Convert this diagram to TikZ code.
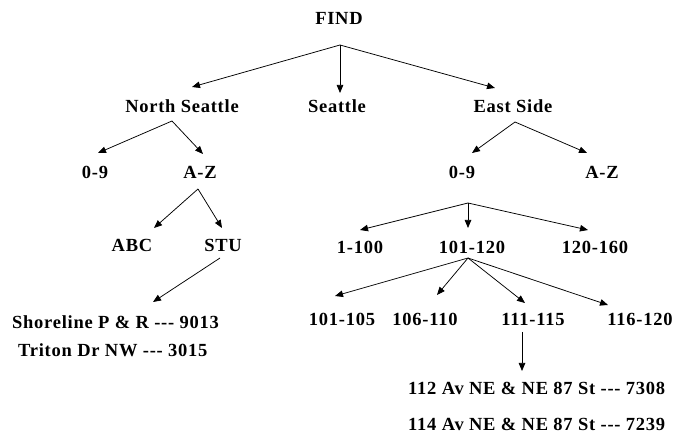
\documentclass[tikz,border=0pt]{standalone}
\usepackage{fontspec}
\setmainfont[LetterSpace=4]{Liberation Serif}
\usetikzlibrary{arrows.meta}
\newcommand{\tdash}{{-}{-}{-}}
\begin{document}
\begin{tikzpicture}[x=1pt,y=-1pt,
  lbl/.style={inner sep=0pt,font=\fontsize{18.5}{20}\selectfont\bfseries},
  lbll/.style={lbl,anchor=west},
  arr/.style={draw=black,line width=0.75pt,-{Triangle[length=8pt,width=6.5pt]}}]
\useasboundingbox (0,0) rectangle (675,438);
% nodes
\node[lbl] (find) at (339,18) {FIND};
\node[lbl] (ns) at (182,106) {North Seattle};
\node[lbl] (sea) at (337,106) {Seattle};
\node[lbl] (es) at (513,106) {East Side};
\node[lbl] (n09) at (95,172) {0-9};
\node[lbl] (naz) at (200,172) {A-Z};
\node[lbl] (abc) at (132,245) {ABC};
\node[lbl] (stu) at (223,245) {STU};
\node[lbll] (shore) at (12,322) {Shoreline P \& R \tdash{} 9013};
\node[lbll] (triton) at (18,350) {Triton Dr NW \tdash{} 3015};
\node[lbl] (e09) at (462,172) {0-9};
\node[lbl] (eaz) at (602,172) {A-Z};
\node[lbl] (r1) at (360,247) {1-100};
\node[lbl] (r2) at (472,247) {101-120};
\node[lbl] (r3) at (595,247) {120-160};
\node[lbl] (s1) at (342,319) {101-105};
\node[lbl] (s2) at (425,319) {106-110};
\node[lbl] (s3) at (533,319) {111-115};
\node[lbl] (s4) at (640,319) {116-120};
\node[lbll] (a1) at (408,388) {112 Av NE \& NE 87 St \tdash{} 7308};
\node[lbll] (a2) at (408,424) {114 Av NE \& NE 87 St \tdash{} 7239};
% fork points
\coordinate (fF) at ([shift={(1,27)}]find.center);
\coordinate (fNS) at ([shift={(-10,15)}]ns.center);
\coordinate (fAZ) at ([shift={(-2,17)}]naz.center);
\coordinate (fSTU) at ([shift={(-3,13)}]stu.center);
\coordinate (fES) at ([shift={(2,16)}]es.center);
\coordinate (fE09) at ([shift={(6,31)}]e09.center);
\coordinate (fR2) at ([shift={(-4,11)}]r2.center);
\coordinate (fS3) at ([shift={(-11,13)}]s3.center);
% connectors
\draw[arr] (fF) -- ([shift={(10,-19)}]ns.center);
\draw[arr] (fF) -- ([shift={(3,-13)}]sea.center);
\draw[arr] (fF) -- ([shift={(-18,-18)}]es.center);
\draw[arr] (fNS) -- ([shift={(3,-19)}]n09.center);
\draw[arr] (fNS) -- ([shift={(3,-18)}]naz.center);
\draw[arr] (fAZ) -- ([shift={(22,-17)}]abc.center);
\draw[arr] (fAZ) -- ([shift={(-1,-17)}]stu.center);
\draw[arr] (fSTU) -- ([shift={(141,-20)}]shore.west);
\draw[arr] (fES) -- ([shift={(10,-19)}]e09.center);
\draw[arr] (fES) -- ([shift={(-15,-19)}]eaz.center);
\draw[arr] (fE09) -- ([shift={(0,-17)}]r1.center);
\draw[arr] (fE09) -- ([shift={(-4,-19)}]r2.center);
\draw[arr] (fE09) -- ([shift={(-7,-17)}]r3.center);
\draw[arr] (fR2) -- ([shift={(-7,-23)}]s1.center);
\draw[arr] (fR2) -- ([shift={(12,-24)}]s2.center);
\draw[arr] (fR2) -- ([shift={(-8,-16)}]s3.center);
\draw[arr] (fR2) -- ([shift={(-32,-14)}]s4.center);
\draw[arr] (fS3) -- ([shift={(114,-17)}]a1.west);
\end{tikzpicture}
\end{document}
